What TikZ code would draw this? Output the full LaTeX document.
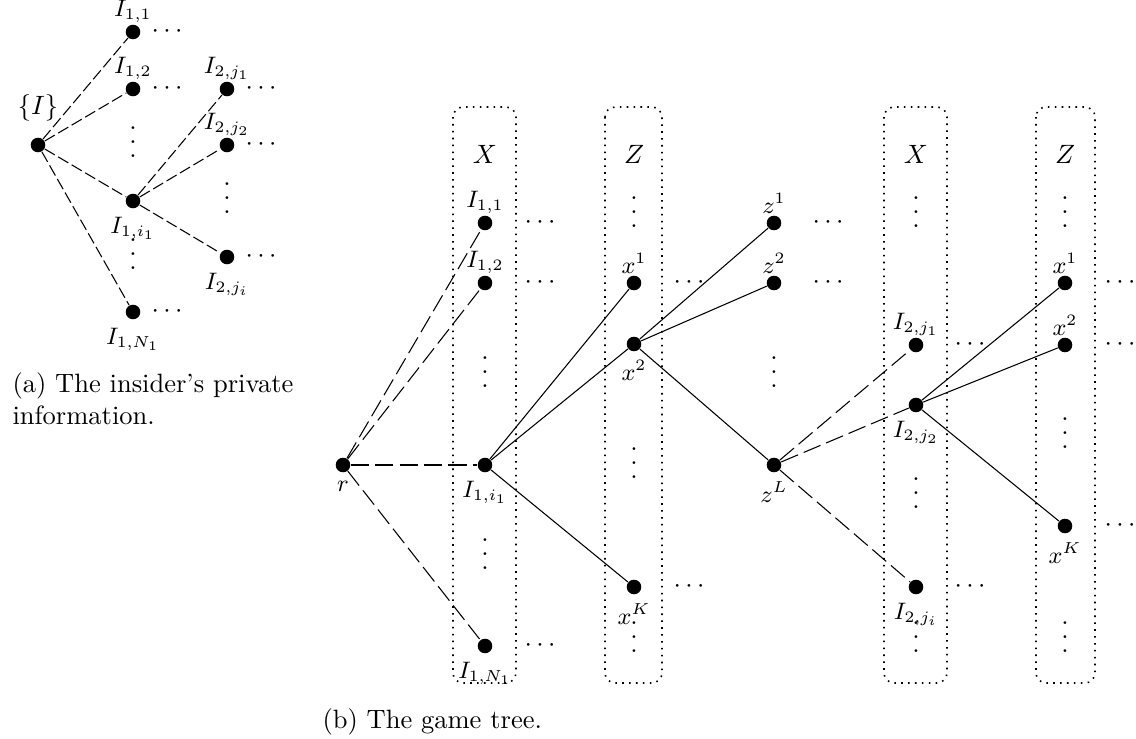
\documentclass[tikz,border=0pt]{standalone}
\newcommand\vdts{\vbox{\baselineskip5.3pt\lineskiplimit0pt\hbox{.}\hbox{.}\hbox{.}}}
\tikzset{
  vtx/.style={circle,fill=black,inner sep=0pt,minimum size=5.5pt},
  dasha/.style={dash pattern=on 4.4pt off 1.5pt},
  dashb/.style={dash pattern=on 6.9pt off 2.3pt},
  colbox/.style={dotted, line width=0.6pt, rounded corners=3.8pt},
  every label/.style={font=\small, inner sep=3pt},
  up/.style={label={[inner sep=0.4pt]above:#1}},
  dn/.style={label={below:#1}},
  capt/.style={anchor=base west, inner sep=0pt},
  dts/.style={inner sep=0pt},
}
\begin{document}
\begin{tikzpicture}[x=0.3774pt,y=-0.3774pt]
\useasboundingbox (0,0) rectangle (1136,739);

% ---------------- (a) ----------------
\node[vtx,label={[font=\normalsize,inner sep=0.4pt,label distance=5.5pt]above:$\{I\}$}] (p0) at (38,145) {};
\node[vtx,up={$I_{1,1}$}] (p11) at (133,32) {};
\node[vtx,up={$I_{1,2}$}] (p12) at (133,89) {};
\node[vtx,dn={$I_{1,i_1}$}] (pi1) at (133,201) {};
\node[vtx,dn={$I_{1,N_1}$}] (pN1) at (133,312) {};
\node[vtx,up={$I_{2,j_1}$}] (b1) at (227,89) {};
\node[vtx,up={$I_{2,j_2}$}] (b2) at (227,145) {};
\node[vtx,dn={$I_{2,j_i}$}] (bi) at (227,257) {};

\node[dts] (pv1) at (133,142) {\vdts};
\node[dts] (pv2) at (133,254) {\vdts};
\node[dts] (pv3) at (227,198) {\vdts};

\node[dts] (pc1) at (167,32) {$\cdots$};
\node[dts] (pc2) at (167,89) {$\cdots$};
\node[dts] (pc3) at (167,312) {$\cdots$};
\node[dts] (pc4) at (261,89) {$\cdots$};
\node[dts] (pc5) at (261,145) {$\cdots$};
\node[dts] (pc6) at (261,257) {$\cdots$};

\draw[dasha] (p0) -- (p11);
\draw[dasha] (p0) -- (p12);
\draw[dasha] (p0) -- (pi1);
\draw[dasha] (p0) -- (pN1);
\draw[dasha] (pi1) -- (b1);
\draw[dasha] (pi1) -- (b2);
\draw[dasha] (pi1) -- (bi);

\node[capt] (capa1) at (12,393) {(a) The insider's private};
\node[capt] (capa2) at (12,425) {information.};

% ---------------- (b) ----------------
\draw[colbox] (453,107) rectangle (516,683);
\draw[colbox] (605,107) rectangle (662,683);
\draw[colbox] (884,107) rectangle (947,683);
\draw[colbox] (1036,107) rectangle (1095,683);

\node (lx1) at (485,154) {$X$};
\node (lz1) at (634,154) {$Z$};
\node (lx2) at (916,154) {$X$};
\node (lz2) at (1065,154) {$Z$};

\node[vtx,dn={$r$}] (r) at (343,465) {};
\node[vtx,up={$I_{1,1}$}] (q11) at (485,223) {};
\node[vtx,up={$I_{1,2}$}] (q12) at (485,283) {};
\node[vtx,dn={$I_{1,i_1}$}] (qi1) at (485,465) {};
\node[vtx,dn={$I_{1,N_1}$}] (qN1) at (485,646) {};

\node[vtx,up={$x^1$}] (x1) at (634,283) {};
\node[vtx,dn={$x^2$}] (x2) at (634,344) {};
\node[vtx,dn={$x^K$}] (xK) at (634,587) {};

\node[vtx,up={$z^1$}] (z1) at (774,223) {};
\node[vtx,up={$z^2$}] (z2) at (774,283) {};
\node[vtx,dn={$z^L$}] (zL) at (774,465) {};

\node[vtx,up={$I_{2,j_1}$}] (s1) at (916,345) {};
\node[vtx,dn={$I_{2,j_2}$}] (s2) at (916,405) {};
\node[vtx,dn={$I_{2,j_i}$}] (si) at (916,587) {};

\node[vtx,up={$x^1$}] (y1) at (1065,283) {};
\node[vtx,up={$x^2$}] (y2) at (1065,345) {};
\node[vtx,dn={$x^K$}] (yK) at (1065,526) {};

% vertical dots
\node[dts] (v1) at (485,372) {\vdts};
\node[dts] (v2) at (485,554) {\vdts};
\node[dts] (v3) at (634,212) {\vdts};
\node[dts] (v4) at (634,463) {\vdts};
\node[dts] (v5) at (634,637) {\vdts};
\node[dts] (v6) at (774,372) {\vdts};
\node[dts] (v7) at (916,212) {\vdts};
\node[dts] (v8) at (916,493) {\vdts};
\node[dts] (v9) at (916,637) {\vdts};
\node[dts] (v10) at (1065,212) {\vdts};
\node[dts] (v11) at (1065,433) {\vdts};
\node[dts] (v12) at (1065,637) {\vdts};

% horizontal dots
\node[dts] (c1) at (540,223) {$\cdots$};
\node[dts] (c2) at (540,283) {$\cdots$};
\node[dts] (c3) at (540,646) {$\cdots$};
\node[dts] (c4) at (689,283) {$\cdots$};
\node[dts] (c5) at (689,587) {$\cdots$};
\node[dts] (c6) at (828,223) {$\cdots$};
\node[dts] (c7) at (828,283) {$\cdots$};
\node[dts] (c8) at (970,345) {$\cdots$};
\node[dts] (c9) at (970,587) {$\cdots$};
\node[dts] (c10) at (1120,283) {$\cdots$};
\node[dts] (c11) at (1120,345) {$\cdots$};
\node[dts] (c12) at (1120,526) {$\cdots$};

% edges
\draw[dashb] (r) -- (q11);
\draw[dashb] (r) -- (q12);
\draw[dashb] (r) -- (qi1);
\draw[dashb] (r) -- (qN1);
\draw (qi1) -- (x1);
\draw (qi1) -- (x2);
\draw (qi1) -- (xK);
\draw (x2) -- (z1);
\draw (x2) -- (z2);
\draw (x2) -- (zL);
\draw[dashb] (zL) -- (s1);
\draw[dashb] (zL) -- (s2);
\draw[dashb] (zL) -- (si);
\draw (s2) -- (y1);
\draw (s2) -- (y2);
\draw (s2) -- (yK);

\node[capt] (capb) at (322,728) {(b) The game tree.};
\end{tikzpicture}
\end{document}
